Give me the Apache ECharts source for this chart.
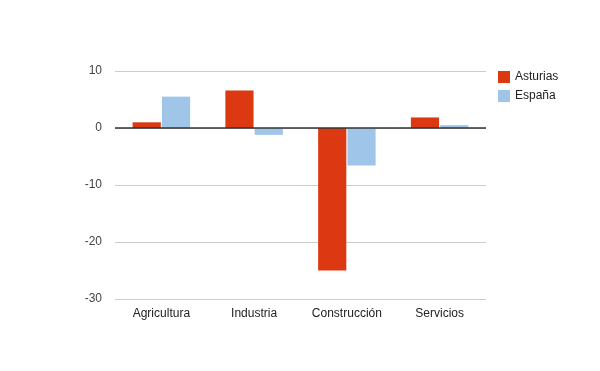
<!DOCTYPE html>
<html><head><meta charset="utf-8">
<script src="https://cdn.jsdelivr.net/npm/echarts@6/dist/echarts.min.js"></script>
<style>html,body{margin:0;padding:0;background:#fff}#c{width:600px;height:371px}</style>
</head><body><div id="c"></div>
<script>
const categories = ['Agricultura', 'Industria', 'Construcción', 'Servicios'];
const asturias = [1.0, 6.6, -25.0, 1.85];
const espana = [5.5, -1.2, -6.6, 0.5];
const seriesNames = ['Asturias', 'España'];

const chart = echarts.init(document.getElementById('c'));
chart.setOption({
  animation: false,
  textStyle: { fontFamily: 'Liberation Sans, Arial, sans-serif' },
  grid: { left: 115, right: 114, top: 71, bottom: 72 },
  legend: {
    orient: 'vertical', left: 493, top: 66,
    itemWidth: 12, itemHeight: 12, itemGap: 7, icon: 'rect',
    textStyle: { fontSize: 12, color: '#222' },
    data: seriesNames
  },
  xAxis: {
    type: 'category', data: categories,
    axisLine: { show: false }, axisTick: { show: false },
    axisLabel: { color: '#222', fontSize: 12, margin: 9 }
  },
  yAxis: {
    type: 'value', min: -30, max: 10, interval: 10,
    axisLine: { show: false }, axisTick: { show: false },
    axisLabel: { color: '#444', fontSize: 12, margin: 13 },
    splitLine: { lineStyle: { color: '#cccccc' } }
  },
  series: [
    { name: seriesNames[0], type: 'bar', data: asturias, itemStyle: { color: '#dc3912' },
      barGap: '4%', barCategoryGap: '38%',
      markLine: { silent: true, symbol: 'none', label: { show: false },
        lineStyle: { color: '#333', width: 1.5, type: 'solid' }, data: [{ yAxis: 0 }] } },
    { name: seriesNames[1], type: 'bar', data: espana, itemStyle: { color: '#9fc5e8' },
      barGap: '4%', barCategoryGap: '38%' }
  ]
});
</script></body></html>
